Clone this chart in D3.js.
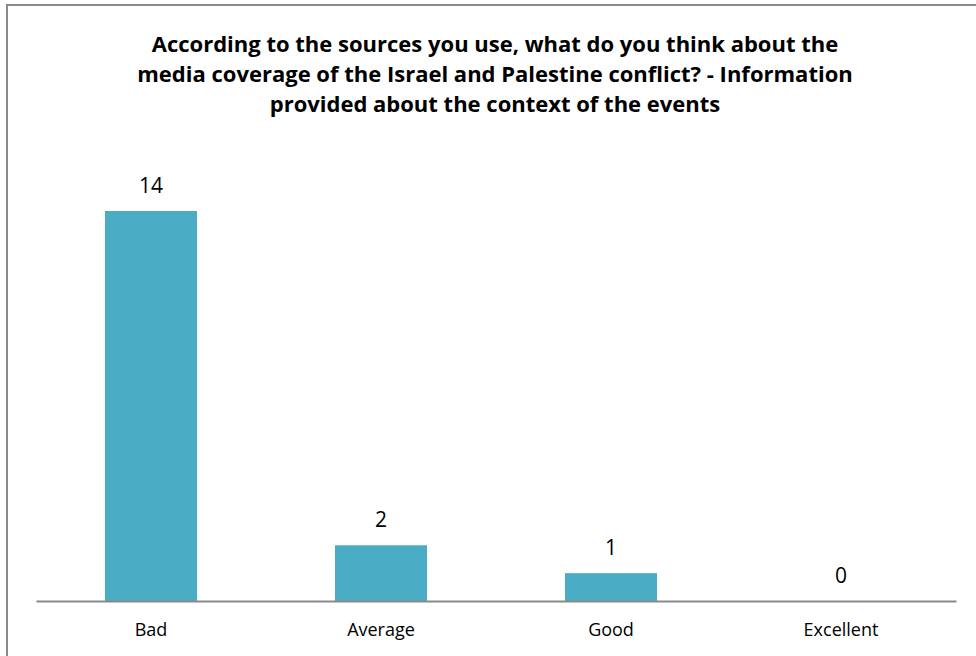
<!DOCTYPE html>
<html>
<head>
<meta charset="utf-8">
<script src="https://cdn.jsdelivr.net/npm/d3@7"></script>
<style>
  body { margin: 0; background: #fff; }
  text { font-family: "Open Sans", "Noto Sans", sans-serif; }
</style>
</head>
<body>
<div id="chart"></div>
<script>
// chart data
var categories = ['Bad', 'Average', 'Good', 'Excellent'];
var counts = [14, 2, 1, 0];
var titleLines = [
    'According to the sources you use, what do you think about the',
    'media coverage of the Israel and Palestine conflict? - Information',
    'provided about the context of the events'
];

var width = 976, height = 656;
var barColor = '#4bacc6';
var axisColor = '#898989';

var svg = d3.select('#chart').append('svg')
    .attr('width', width)
    .attr('height', height);

// outer frame, right and bottom edges run past the picture
svg.append('rect')
    .attr('x', 7).attr('y', 5)
    .attr('width', 1000).attr('height', 700)
    .attr('fill', 'none')
    .attr('stroke', axisColor)
    .attr('stroke-width', 2);

// title
svg.append('g').selectAll('text')
    .data(titleLines)
    .enter().append('text')
    .attr('x', 495)
    .attr('y', function(d, i) { return 52 + i * 30; })
    .attr('text-anchor', 'middle')
    .attr('font-size', '22px')
    .attr('font-weight', 'bold')
    .attr('fill', '#000')
    .text(function(d) { return d; });

var x = d3.scaleBand()
    .domain(categories)
    .range([36, 956])
    .paddingInner(0.6)
    .paddingOuter(0.3);

var y = d3.scaleLinear()
    .domain([0, 14])
    .range([601, 211]);

// bars
svg.append('g').selectAll('rect')
    .data(counts)
    .enter().append('rect')
    .attr('x', function(d, i) { return x(categories[i]); })
    .attr('y', function(d) { return y(d); })
    .attr('width', x.bandwidth())
    .attr('height', function(d) { return y(0) - y(d); })
    .attr('fill', barColor);

// value labels
svg.append('g').selectAll('text')
    .data(counts)
    .enter().append('text')
    .attr('x', function(d, i) { return x(categories[i]) + x.bandwidth() / 2; })
    .attr('y', function(d) { return y(d) - 18; })
    .attr('text-anchor', 'middle')
    .attr('font-size', '21px')
    .attr('fill', '#000')
    .text(function(d) { return d; });

// x axis
var xAxis = d3.axisBottom(x).tickSize(0).tickPadding(22);
var gx = svg.append('g')
    .attr('transform', 'translate(0,' + y(0) + ')')
    .call(xAxis);
gx.select('.domain')
    .attr('stroke', axisColor)
    .attr('stroke-width', 2);
gx.selectAll('text')
    .attr('font-size', '18px')
    .attr('fill', '#000')
    .style('font-family', '"Open Sans", "Noto Sans", sans-serif');
</script>
</body>
</html>
